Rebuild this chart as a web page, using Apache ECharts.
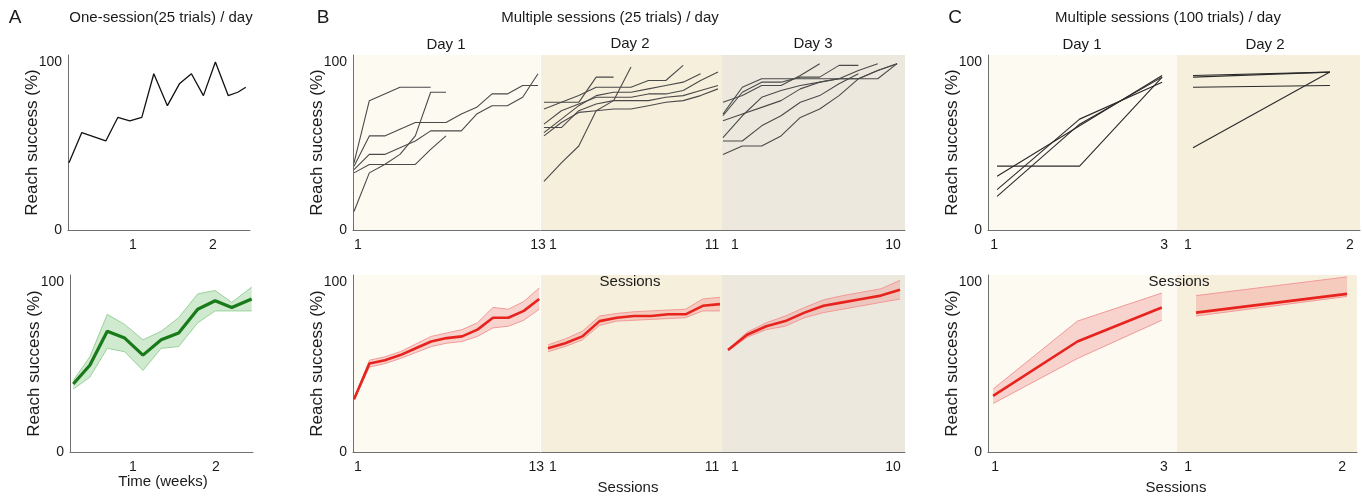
<!DOCTYPE html>
<html>
<head>
<meta charset="utf-8">
<script src="https://cdn.jsdelivr.net/npm/echarts@6/dist/echarts.min.js"></script>
<style>
html, body { margin: 0; background: #fff; }
#chart { width: 1362px; height: 496px; }
</style>
</head>
<body>
<div id="chart"></div>
<script>
// ---- A: one session / day ----
var weeksA = [0.2, 0.36, 0.66, 0.81, 0.96, 1.11, 1.26, 1.43, 1.58, 1.73, 1.88, 2.03, 2.19, 2.31, 2.41];
var reachA = [40, 58, 53, 67, 65, 67, 93, 74, 87, 93, 80, 100, 80, 82, 85];

var weeksAMean = [0.28, 0.48, 0.69, 0.9, 1.12, 1.34, 1.55, 1.78, 1.99, 2.19, 2.43];
var meanA = [40, 51, 71, 67, 57, 66, 70, 84, 89, 85, 90];
var upperA = [42, 56, 81, 75, 66, 71, 79, 93, 95, 88, 97];
var lowerA = [37, 44, 61, 59, 48, 61, 62, 76, 83, 83, 83];

// ---- B: multiple sessions (25 trials) / day, individual animals ----
var bDay1Lines = [
    [40, 77, 81, 85, 85, 85],
    [38, 56, 56, 60, 64, 64, 64, 69, 73, 81, 81, 86, 86],
    [36, 45, 45, 49, 53, 59, 59, 59, 69, 74, 74, 79, 93],
    [34, 39, 39, 39, 39, 48, 56],
    [11, 34, 39, 45, 56, 82, 82]
];
var bDay2Lines = [
    [76, 76, 76, 91, 91],
    [72, 76, 80, 85, 85, 85, 89, 89, 98],
    [63, 71, 75, 79, 79, 79, 81, 81, 83, 89, 94],
    [61, 61, 71, 75, 77, 77, 77, 79, 80, 83, 86],
    [56, 64, 70, 71, 72, 72, 74, 76, 77, 80, 84],
    [58, 66, 74, 80, 82, 82, 84, 86, 88, 93],
    [29, 40, 50, 71, 77, 97]
];
var bDay3Lines = [
    [68, 82, 88, 88, 91, 91, 98, 98],
    [69, 85, 90, 90, 90, 90, 90, 90, 95, 99],
    [76, 80, 86, 86, 92, 99],
    [65, 69, 73, 77, 84, 88, 90, 90, 95, 99],
    [55, 68, 79, 83, 86, 88, 90, 95, 99],
    [53, 53, 62, 68, 76, 80, 87, 93],
    [45, 50, 50, 56, 67, 72, 80, 90, 90, 99]
];

// ---- B: group mean +/- sem ----
var meanB1 = [31, 52, 54, 57, 61, 65, 67, 68, 72, 79, 79, 83, 90];
var upperB1 = [31.5, 54, 56, 59, 63.5, 68, 70, 72, 76, 85, 84, 88.5, 96.5];
var lowerB1 = [30.5, 50, 52, 55, 58.5, 62, 64, 65, 68, 73, 74, 77.5, 84];
var meanB2 = [61, 64, 68, 77, 79, 80, 80, 81, 81, 86, 87];
var upperB2 = [63, 66.5, 71, 80, 81.5, 82.5, 83, 83.5, 84, 90, 91];
var lowerB2 = [59, 62, 66, 74.5, 77, 77.5, 78, 78.5, 79, 83, 83];
var meanB3 = [60, 69, 74, 77, 82, 86, 88, 90, 92, 95.5];
var upperB3 = [60.5, 70.5, 76, 80, 85, 89.5, 92, 94, 96, 101];
var lowerB3 = [59.5, 67.5, 72, 74, 79, 82, 84, 86, 88, 90];

// ---- C: multiple sessions (100 trials) / day ----
var cDay1Lines = [
    [32, 62, 92],
    [24, 66, 88],
    [20, 63, 91],
    [38, 38, 91]
];
var cDay2Lines = [
    [92, 94],
    [91, 94],
    [85, 86],
    [49, 94]
];
var meanC1 = [33, 65, 85];
var upperC1 = [37, 77, 93.5];
var lowerC1 = [28.5, 55, 77.5];
var meanC2 = [82, 93];
var upperC2 = [92, 103];
var lowerC2 = [80, 91.5];

var yTicks = [0, 100];
var FONT = "'Liberation Sans', Arial, sans-serif";
var TXT = "#1a1a1a";
var AXIS = "#6f6f6f";
var BG1 = "#fcfaf1", BG2 = "#f6efdc", BG3 = "#ece8dd";

var grids = [], xAxes = [], yAxes = [], series = [];

// shift (px) of a tick label sideways, done with rich-text padding
function shiftPad(s) {
    if (s > 0) return [0, 0, 0, 2 * s];
    if (s < 0) return [0, -2 * s, 0, 0];
    return [0, 0, 0, 0];
}

function addPanel(p) {
    var i = grids.length;
    var shift = p.shift || [0, 0];
    var lab = { fontSize: 14, color: TXT, fontFamily: FONT };
    grids.push({
        left: p.left, top: p.top, width: p.width, height: p.height,
        show: !!p.bg, backgroundColor: p.bg || "transparent",
        borderWidth: 0, containLabel: false, outerBoundsMode: "none"
    });
    xAxes.push({
        gridIndex: i, type: "value", min: p.xMin, max: p.xMax,
        splitLine: { show: false },
        axisTick: { show: false },
        axisLine: { show: true, onZero: false, lineStyle: { color: AXIS, width: 1 } },
        axisLabel: {
            customValues: p.xLabels, fontSize: 14, color: TXT, fontFamily: FONT, margin: 8,
            formatter: function (v) {
                return (v === p.xLabels[0] ? "{a|" : "{b|") + v + "}";
            },
            rich: {
                a: Object.assign({ padding: shiftPad(shift[0]) }, lab),
                b: Object.assign({ padding: shiftPad(shift[1]) }, lab)
            }
        }
    });
    yAxes.push({
        gridIndex: i, type: "value", min: 0, max: p.yMax,
        splitLine: { show: false },
        axisTick: { show: false },
        axisLine: { show: !!p.yAxis, lineStyle: { color: AXIS, width: 1 } },
        axisLabel: { show: !!p.yAxis, customValues: yTicks, fontSize: 14, color: TXT, fontFamily: FONT, margin: 6 },
        name: p.yAxis ? "Reach success (%)" : "",
        nameLocation: "middle", nameGap: 27, nameMoveOverlap: false,
        nameTextStyle: { fontSize: 17, color: TXT, fontFamily: FONT }
    });
    return i;
}

function addThin(g, lines, color) {
    lines.forEach(function (vals) {
        series.push({
            type: "line", xAxisIndex: g, yAxisIndex: g, silent: true,
            symbol: "none", clip: false,
            lineStyle: { color: color, width: 1.1 },
            data: vals.map(function (v, k) { return [k + 1, v]; })
        });
    });
}

function addBand(g, xs, mean, upper, lower, c) {
    // shaded sem band drawn as one polygon through the axis coordinates
    series.push({
        type: "custom", coordinateSystem: "cartesian2d",
        xAxisIndex: g, yAxisIndex: g, silent: true, clip: false,
        data: xs.map(function (x, k) { return [x, lower[k], upper[k]]; }),
        encode: { x: 0, y: [1, 2] },
        renderItem: function (params, api) {
            if (params.dataIndex !== 0) return null;
            var pts = [];
            for (var k = 0; k < xs.length; k++) pts.push(api.coord([xs[k], upper[k]]));
            for (var j = xs.length - 1; j >= 0; j--) pts.push(api.coord([xs[j], lower[j]]));
            return { type: "polygon", shape: { points: pts }, style: { fill: c.fill, stroke: null } };
        }
    });
    [upper, lower].forEach(function (edge) {
        series.push({
            type: "line", xAxisIndex: g, yAxisIndex: g, silent: true,
            symbol: "none", clip: false,
            lineStyle: { color: c.edge, width: 1 },
            data: xs.map(function (x, k) { return [x, edge[k]]; })
        });
    });
    series.push({
        type: "line", xAxisIndex: g, yAxisIndex: g, silent: true,
        symbol: "none", clip: false,
        lineStyle: { color: c.line, width: c.width },
        data: xs.map(function (x, k) { return [x, mean[k]]; })
    });
}

function sessions(n) {
    var out = [];
    for (var k = 1; k <= n; k++) out.push(k);
    return out;
}

var RED = { line: "#e8231e", edge: "#f29a9a", fill: "rgba(240,120,120,0.30)", width: 2.6 };
var GREEN = { line: "#187a18", edge: "#9bd19b", fill: "rgba(130,200,130,0.38)", width: 3.2 };

var TOP = 55, TOP_H = 175, TOP_MAX = 104.17;
var BOT = 275, BOT_H = 177, BOT_MAX = 104.12;

// top row
var gA = addPanel({ left: 68, top: TOP, width: 182, height: TOP_H, yMax: TOP_MAX, xMin: 0.1875, xMax: 2.4625, xLabels: [1, 2], yAxis: true });
var gB1 = addPanel({ left: 353, top: TOP, width: 187, height: TOP_H, yMax: TOP_MAX, xMin: 0.935, xMax: 13.13, xLabels: [1, 13], yAxis: true, bg: BG1, shift: [4, 0] });
var gB2 = addPanel({ left: 541, top: TOP, width: 181, height: TOP_H, yMax: TOP_MAX, xMin: 0.83, xMax: 11.23, xLabels: [1, 11], bg: BG2, shift: [9, -6] });
var gB3 = addPanel({ left: 722, top: TOP, width: 183, height: TOP_H, yMax: TOP_MAX, xMin: 0.95, xMax: 10.41, xLabels: [1, 10], bg: BG3, shift: [12, -4] });
var gC1 = addPanel({ left: 988, top: TOP, width: 189, height: TOP_H, yMax: TOP_MAX, xMin: 0.89, xMax: 3.18, xLabels: [1, 3], yAxis: true, bg: BG1, shift: [-3, 2] });
var gC2 = addPanel({ left: 1177, top: TOP, width: 183, height: TOP_H, yMax: TOP_MAX, xMin: 0.883, xMax: 2.22, xLabels: [1, 2], bg: BG2, shift: [-5, 20] });

// bottom row
var hA = addPanel({ left: 70, top: BOT, width: 183, height: BOT_H, yMax: BOT_MAX, xMin: 0.241, xMax: 2.446, xLabels: [1, 2], yAxis: true });
var hB1 = addPanel({ left: 353, top: BOT, width: 187, height: BOT_H, yMax: BOT_MAX, xMin: 0.935, xMax: 13.05, xLabels: [1, 13], yAxis: true, bg: BG1, shift: [4, -3] });
var hB2 = addPanel({ left: 541, top: BOT, width: 181, height: BOT_H, yMax: BOT_MAX, xMin: 0.593, xMax: 11.12, xLabels: [1, 11], bg: BG2, shift: [5, -8] });
var hB3 = addPanel({ left: 722, top: BOT, width: 183, height: BOT_H, yMax: BOT_MAX, xMin: 0.686, xMax: 10.26, xLabels: [1, 10], bg: BG3, shift: [7, -7] });
var hC1 = addPanel({ left: 988, top: BOT, width: 189, height: BOT_H, yMax: BOT_MAX, xMin: 0.94, xMax: 3.18, xLabels: [1, 3], yAxis: true, bg: BG1, shift: [2, 2] });
var hC2 = addPanel({ left: 1177, top: BOT, width: 180, height: BOT_H, yMax: BOT_MAX, xMin: 0.874, xMax: 2.066, xLabels: [1, 2], bg: BG2, shift: [-8, -5] });

series.push({
    type: "line", xAxisIndex: gA, yAxisIndex: gA, silent: true, symbol: "none",
    lineStyle: { color: "#111", width: 1.3 },
    data: weeksA.map(function (x, k) { return [x, reachA[k]]; })
});
addThin(gB1, bDay1Lines, "#4a4a4a");
addThin(gB2, bDay2Lines, "#4a4a4a");
addThin(gB3, bDay3Lines, "#4a4a4a");
addThin(gC1, cDay1Lines, "#2a2a2a");
addThin(gC2, cDay2Lines, "#2a2a2a");

addBand(hA, weeksAMean, meanA, upperA, lowerA, GREEN);
addBand(hB1, sessions(13), meanB1, upperB1, lowerB1, RED);
addBand(hB2, sessions(11), meanB2, upperB2, lowerB2, RED);
addBand(hB3, sessions(10), meanB3, upperB3, lowerB3, RED);
addBand(hC1, sessions(3), meanC1, upperC1, lowerC1, RED);
addBand(hC2, sessions(2), meanC2, upperC2, lowerC2, RED);

function label(text, x, y, size) {
    return {
        type: "text", x: x, y: y, silent: true,
        style: {
            text: text, fill: TXT, fontSize: size, fontFamily: FONT,
            align: "center", verticalAlign: "middle",
            textAlign: "center", textVerticalAlign: "middle"
        }
    };
}

var texts = [
    label("A", 15, 18, 19),
    label("One-session(25 trials) / day", 161, 18, 15),
    label("B", 323, 18, 19),
    label("Multiple sessions (25 trials) / day", 610, 18, 15),
    label("Day 1", 446, 45, 15),
    label("Day 2", 630, 44, 15),
    label("Day 3", 813, 44, 15),
    label("C", 955, 18, 19),
    label("Multiple sessions (100 trials) / day", 1168, 18, 15),
    label("Day 1", 1082, 45, 15),
    label("Day 2", 1265, 45, 15),
    label("Time (weeks)", 163, 482, 15),
    label("Sessions", 630, 282, 15),
    label("Sessions", 628, 488, 15),
    label("Sessions", 1179, 282, 15),
    label("Sessions", 1176, 488, 15)
];

var chart = echarts.init(document.getElementById("chart"));
chart.setOption({
    backgroundColor: "#fff",
    animation: false,
    grid: grids,
    xAxis: xAxes,
    yAxis: yAxes,
    series: series,
    graphic: texts
});
</script>
</body>
</html>
